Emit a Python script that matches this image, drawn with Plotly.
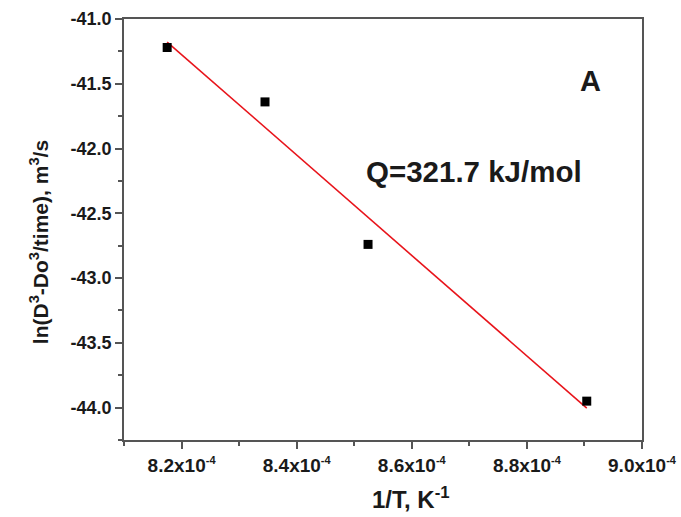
import numpy as np
import plotly.graph_objects as go

inv_T = [8.175e-4, 8.345e-4, 8.524e-4, 8.904e-4]
ln_rate = [-41.22, -41.64, -42.74, -43.95]

x_ticks = [8.2e-4, 8.4e-4, 8.6e-4, 8.8e-4, 9.0e-4]
x_mantissa = ["8.2", "8.4", "8.6", "8.8", "9.0"]
x_ticktext = [f"{m}x10<sup><span style='font-size:11px'>-4</span></sup>" for m in x_mantissa]
x_minor = [8.1e-4, 8.3e-4, 8.5e-4, 8.7e-4, 8.9e-4]
y_ticks = [-41.0, -41.5, -42.0, -42.5, -43.0, -43.5, -44.0]
y_minor = [-41.25, -41.75, -42.25, -42.75, -43.25, -43.75, -44.25]

slope, intercept = np.polyfit(inv_T, ln_rate, 1)
fit_x = [inv_T[0], inv_T[-1]]
fit_y = [slope * v + intercept for v in fit_x]

font_family = "Liberation Sans, Arial, sans-serif"
axis_color = "#555555"
text_color = "#1a1a1a"

fig = go.Figure()
fig.add_trace(go.Scatter(x=fit_x, y=fit_y, mode="lines",
                         line=dict(color="#e8141b", width=1.6), showlegend=False))
fig.add_trace(go.Scatter(x=inv_T, y=ln_rate, mode="markers",
                         marker=dict(symbol="square", size=9, color="black"),
                         showlegend=False))

fig.add_annotation(x=0.876, y=0.895, xref="paper", yref="paper", text="A", xanchor="left",
                   showarrow=False, font=dict(size=29, family=font_family, color=text_color, weight="bold"))
fig.add_annotation(x=0.463, y=0.637, xref="paper", yref="paper", text="Q=321.7 kJ/mol", xanchor="left",
                   showarrow=False, font=dict(size=29.5, family=font_family, color=text_color, weight="bold"))
fig.add_annotation(x=0.554, y=-0.178, xref="paper", yref="paper", text="1/T, K<sup>-1</sup>",
                   showarrow=False, font=dict(size=24, family=font_family, color=text_color, weight="bold"))
fig.add_annotation(x=-0.193, y=0.47, xref="paper", yref="paper", textangle=-90,
                   text="ln(D<sup>3</sup>-Do<sup>3</sup>/time), m<sup>3</sup>/s",
                   showarrow=False, font=dict(size=21, family=font_family, color=text_color, weight="bold"))

fig.update_layout(
    width=681, height=517,
    margin=dict(l=124, r=39, t=19, b=77, autoexpand=False),
    plot_bgcolor="white", paper_bgcolor="white",
    font=dict(family=font_family, color=text_color, size=15, weight="bold"),
)
fig.update_xaxes(
    range=[8.1e-4, 9.0e-4], tickvals=x_ticks, ticktext=x_ticktext, automargin=False,
    ticks="outside", ticklen=7, tickwidth=1.5, tickcolor=axis_color,
    minor=dict(tickvals=x_minor, ticks="outside", ticklen=4, tickwidth=1.5, tickcolor=axis_color),
    showline=True, linecolor=axis_color, linewidth=1.6, mirror=True,
    showgrid=False, zeroline=False,
    tickfont=dict(size=19, family=font_family, color=text_color, weight="bold"),
)
fig.update_yaxes(
    range=[-44.25, -41.0], tickvals=y_ticks, ticktext=[f"{v:.1f}" for v in y_ticks], automargin=False,
    ticks="outside", ticklen=7, tickwidth=1.5, tickcolor=axis_color,
    minor=dict(tickvals=y_minor, ticks="outside", ticklen=4, tickwidth=1.5, tickcolor=axis_color),
    showline=True, linecolor=axis_color, linewidth=1.6, mirror=True,
    showgrid=False, zeroline=False,
    tickfont=dict(size=18, family=font_family, color=text_color, weight="bold"),
)

fig.write_html("out.html")
